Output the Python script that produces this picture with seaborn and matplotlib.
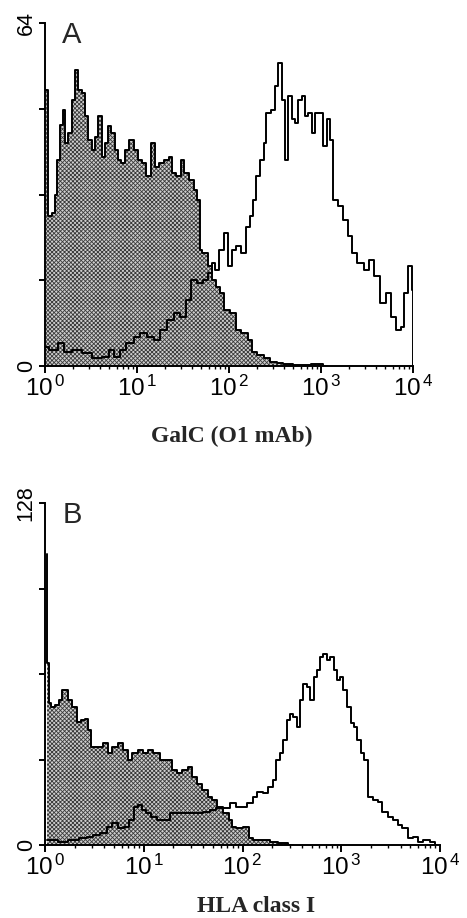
import numpy as np
import pandas as pd
import matplotlib
matplotlib.use("Agg")
import matplotlib.pyplot as plt
import seaborn as sns
from matplotlib.ticker import LogLocator, FixedLocator, FixedFormatter, NullFormatter

# ---- data: (channel on 256-channel / 4-decade log scale, cell count) ----
a_ctrl_ch = [1, 3, 6, 8, 9, 12, 13, 15, 17, 20, 22, 24, 27, 29, 31, 34, 36, 38, 41, 43, 45, 47, 50, 52, 54, 57,
             60, 64, 66, 69, 72, 75, 78, 81, 85, 87, 89, 93, 96, 98, 102, 105, 107, 108, 111, 115, 117, 121, 123,
             126, 131, 134, 139, 143, 145, 150, 154, 159, 163, 168, 177, 191, 196]
a_ctrl_n = [51.5, 28, 28.5, 32, 38.5, 45, 47.8, 41.6, 43.5, 49.7, 55.3, 51.5, 51, 46.6, 42.2, 40.3, 42.8, 46.6, 39,
            41.6, 44.7, 43.5, 40.3, 38.5, 37.9, 40.3, 42.2, 40.3, 38.5, 37.9, 35.4, 41.6, 37.2, 37.9, 38.5, 39, 36,
            35.4, 38.5, 36, 34.7, 32.9, 31, 21.7, 21, 18.6, 16, 14.8, 13.6, 10.5, 9.8, 6.7, 6.1, 4.8, 2.7, 2, 1.4,
            0.8, 0.5, 0.4, 0.1, 0.4, 0]

a_galc_ch = [1, 5, 12, 15, 22, 29, 36, 43, 46, 50, 54, 59, 64, 68, 73, 78, 82, 87, 92, 96, 100, 103, 108, 112,
             115, 117, 119, 123, 126, 129, 131, 134, 138, 141, 144, 146, 148, 151, 153, 155, 159, 161, 163, 166,
             168, 170, 173, 175, 177, 180, 182, 184, 187, 189, 192, 195, 197, 199, 202, 205, 209, 212, 215, 219,
             224, 227, 231, 235, 239, 242, 246, 249, 251, 254, 256, 256]
a_galc_n = [3.6, 3, 4.2, 2.7, 3, 2.4, 1.4, 1.7, 3, 1.7, 3, 4.2, 5.5, 6.1, 5.5, 4.9, 6.7, 8.6, 9.8, 9.2, 12.3, 16,
            15.4, 16, 17.3, 19.2, 17.9, 21.7, 24.8, 18.6, 21.7, 22.3, 21, 26, 27.9, 31, 35.4, 38.5, 41.6, 47.2,
            47.8, 52.2, 56.5, 49.7, 38.5, 50.4, 46, 45.3, 49.7, 50.4, 46.6, 47.2, 43.5, 47.2, 47.2, 41, 46, 42.2,
            31, 29.8, 27.3, 24.2, 21, 19.2, 17.9, 19.8, 16.7, 11.7, 13.6, 9.2, 6.7, 7.3, 13.6, 18.6, 14.2, 0]

b_ctrl_ch = [1, 2, 3, 5, 8, 10, 12, 14, 16, 19, 22, 25, 27, 29, 31, 36, 39, 42, 45, 49, 52, 55, 58, 62, 65, 68,
             72, 77, 81, 84, 87, 91, 94, 97, 100, 104, 107, 110, 113, 118, 120, 122, 126, 131, 133, 137, 144, 148,
             154, 161]
b_ctrl_n = [109, 68, 53, 51.7, 52.3, 54.2, 58, 58, 54.2, 51.7, 46, 46.7, 47.3, 43, 36.8, 36.8, 38, 34.3, 36.8, 38,
            35.5, 31.8, 34.3, 35.5, 34.3, 35.5, 34.3, 31.8, 31.8, 28, 26.8, 28, 29.3, 25.5, 23, 20.6, 18, 16.8,
            14.3, 11.8, 9.3, 6.9, 6.2, 6.9, 2.5, 1.9, 1.9, 1.2, 0.6, 0]

b_hla_ch = [1, 5, 12, 18, 25, 29, 33, 38, 42, 45, 49, 53, 56, 59, 62, 64, 67, 70, 75, 79, 83, 87, 92, 96, 100, 105,
            109, 113, 118, 122, 125, 129, 133, 136, 139, 143, 146, 149, 151, 153, 156, 158, 160, 162, 164, 166,
            168, 171, 173, 175, 177, 179, 181, 184, 186, 188, 190, 192, 194, 197, 199, 201, 203, 206, 208, 211,
            214, 217, 220, 224, 227, 230, 233, 237, 240, 243, 247, 252, 254]
b_hla_n = [1.9, 1.9, 1.2, 1.9, 2.5, 3.1, 3.7, 4.4, 6.9, 8.1, 6.2, 6.9, 9.3, 14.3, 15, 13.1, 11.8, 10.6, 9.3, 9.3,
           11.8, 11.8, 11.8, 12, 12, 12.5, 13.1, 13.7, 13.7, 15.6, 14.3, 14.3, 15.6, 18, 19.9, 19.3, 21.8, 24.3,
           31.8, 34.3, 39.2, 46.7, 49.2, 48, 44.2, 54.2, 60.4, 59.2, 54.2, 62.9, 65.4, 70.4, 71.6, 69.2, 70.4, 65.4,
           61.7, 62.9, 58, 51.7, 45.5, 44.2, 39.2, 34.3, 31.8, 18, 16.8, 16.2, 12.5, 10.6, 9.3, 7.5, 6.2, 2.5, 3.1,
           1.2, 1.9, 1.2, 0]

panels = [
    dict(letter="A", ymax=64, xlabel="GalC (O1 mAb)",
         ctrl=(a_ctrl_ch, a_ctrl_n), stain=(a_galc_ch, a_galc_n)),
    dict(letter="B", ymax=128, xlabel="HLA class I",
         ctrl=(b_ctrl_ch, b_ctrl_n), stain=(b_hla_ch, b_hla_n)),
]
decade_labels = ["$\\mathdefault{10^{\\,0}}$", "$\\mathdefault{10^{\\,1}}$", "$\\mathdefault{10^{\\,2}}$",
                 "$\\mathdefault{10^{\\,3}}$", "$\\mathdefault{10^{\\,4}}$"]

sns.set_style("ticks")
plt.rcParams["font.family"] = ["Liberation Sans", "DejaVu Sans"]
plt.rcParams["mathtext.fontset"] = "custom"
plt.rcParams["mathtext.rm"] = "Liberation Sans"
plt.rcParams["mathtext.it"] = "Liberation Sans"
plt.rcParams["hatch.linewidth"] = 0.6
plt.rcParams["hatch.color"] = "#3a3a3a"

fig = plt.figure(figsize=(4.67, 9.18), dpi=100)
rects = [[45 / 467, 1 - 366 / 918, 368 / 467, 343 / 918],
         [45 / 467, 1 - 845 / 918, 395 / 467, 342 / 918]]
xlabel_pos = [(232 / 467, 1 - 442 / 918), (256 / 467, 1 - 912 / 918)]

for p, r, lp in zip(panels, rects, xlabel_pos):
    ax = fig.add_axes(r)
    c = pd.DataFrame({"x": 10 ** (np.array(p["ctrl"][0]) / 64.0), "n": p["ctrl"][1]})
    s = pd.DataFrame({"x": 10 ** (np.array(p["stain"][0]) / 64.0), "n": p["stain"][1]})
    ax.fill_between(c["x"], c["n"], step="mid", facecolor="#cfcfcf", hatch="xxxxxxxx",
                    edgecolor="#3a3a3a", linewidth=0)
    sns.lineplot(data=c, x="x", y="n", ax=ax, color="black", lw=1.4, drawstyle="steps-mid",
                 estimator=None, sort=False)
    sns.lineplot(data=s, x="x", y="n", ax=ax, color="black", lw=1.4, drawstyle="steps-mid",
                 estimator=None, sort=False)
    ax.set_xscale("log")
    ax.set_xlim(1, 1e4)
    ax.set_ylim(0, p["ymax"])
    ax.set_xlabel("")
    ax.set_ylabel("")
    sns.despine(ax=ax)
    for sp in ["left", "bottom"]:
        ax.spines[sp].set_linewidth(1.4)
        ax.spines[sp].set_color("black")
    ax.xaxis.set_major_locator(FixedLocator([1, 10, 100, 1000, 10000]))
    ax.xaxis.set_major_formatter(FixedFormatter(decade_labels))
    ax.xaxis.set_minor_locator(LogLocator(base=10, subs=np.arange(2, 10), numticks=20))
    ax.xaxis.set_minor_formatter(NullFormatter())
    ax.yaxis.set_major_locator(FixedLocator(np.linspace(0, p["ymax"], 5)))
    ax.yaxis.set_major_formatter(FixedFormatter([str(0), "", "", "", str(p["ymax"])]))
    ax.tick_params(axis="x", which="major", direction="out", length=5, width=1.4, labelsize=17.5, pad=2,
                   colors="black")
    ax.tick_params(axis="x", which="minor", direction="out", length=2.5, width=1.0, colors="black")
    ax.tick_params(axis="y", which="major", direction="out", length=4, width=1.4, labelsize=15.5, pad=2,
                   labelrotation=90, colors="black")
    for lab in ax.get_yticklabels():
        lab.set_va("center")
    ax.text(0.045, 1.005, p["letter"], transform=ax.transAxes, fontsize=21, va="top", ha="left")
    fig.text(lp[0], lp[1], p["xlabel"], ha="center", va="baseline", fontsize=17, fontweight="bold",
             family=["Liberation Serif", "DejaVu Serif"])

fig.savefig("out.png", dpi=100)
